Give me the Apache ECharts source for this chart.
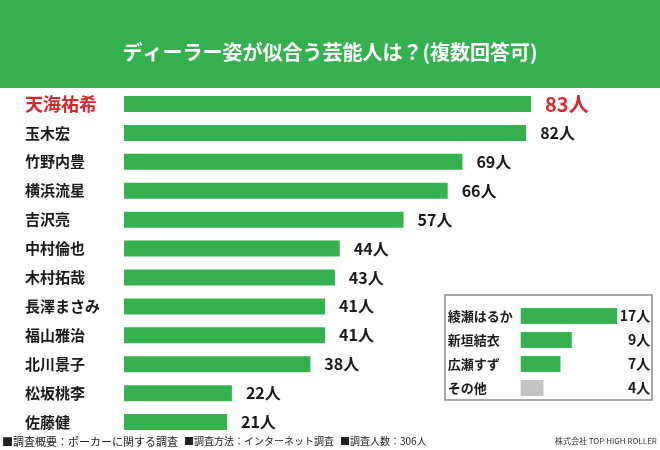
<!DOCTYPE html>
<html>
<head>
<meta charset="utf-8">
<script src="https://cdn.jsdelivr.net/npm/echarts@6/dist/echarts.min.js"></script>
<style>
  html, body { margin: 0; padding: 0; background: #fff; }
  #chart { width: 660px; height: 450px; }
</style>
</head>
<body>
<div id="chart"></div>
<script>
// メインの回答（上位12名）
var names = ['天海祐希', '玉木宏', '竹野内豊', '横浜流星', '吉沢亮', '中村倫也',
  '木村拓哉', '長澤まさみ', '福山雅治', '北川景子', '松坂桃李', '佐藤健'];
var votes = [83, 82, 69, 66, 57, 44, 43, 41, 41, 38, 22, 21];

// 枠内の回答
var otherNames = ['綾瀬はるか', '新垣結衣', '広瀬すず', 'その他'];
var otherVotes = [17, 9, 7, 4];

var titleText = 'ディーラー姿が似合う芸能人は？(複数回答可)';
var notes = ['■調査概要：ポーカーに関する調査', '■調査方法：インターネット調査', '■調査人数：306人'];
var company = '株式会社 TOP HIGH ROLLER';

var GREEN = '#36b14f';
var RED = '#d8282b';
var INK = '#1a1a1a';
var FONT = '"Noto Sans CJK JP", "Noto Sans", sans-serif';

var chart = echarts.init(document.getElementById('chart'));

var mainData = votes.map(function (v, i) {
  if (i === 0) {
    return { value: v, label: { color: RED, fontSize: 20 } };
  }
  return v;
});

var otherData = otherVotes.map(function (v, i) {
  return {
    value: v,
    itemStyle: { color: otherNames[i] === 'その他' ? '#c3c3c3' : GREEN }
  };
});

var option = {
  animation: false,
  textStyle: { fontFamily: FONT },
  title: {
    text: titleText,
    left: 'center',
    top: 37,
    textStyle: { color: '#fff', fontSize: 20, fontWeight: 'bold', fontFamily: FONT }
  },
  graphic: [
    { type: 'rect', z: -10, shape: { x: 0, y: 0, width: 660, height: 88 }, style: { fill: GREEN } },
    { type: 'rect', z: -10, shape: { x: 445, y: 295, width: 207, height: 105 },
      style: { fill: '#fff', stroke: '#8a8a8a', lineWidth: 1.5 } },
    { type: 'text', x: 2, y: 436, style: { text: notes[0], fill: '#222', font: '11px ' + FONT } },
    { type: 'text', x: 184, y: 436, style: { text: notes[1], fill: '#222', font: '10px ' + FONT } },
    { type: 'text', x: 340, y: 436, style: { text: notes[2], fill: '#222', font: '10px ' + FONT } },
    { type: 'text', x: 555, y: 437, style: { text: company, fill: '#333', font: '8px ' + FONT } }
  ],
  grid: [
    { left: 124, top: 89.5, width: 490.4, height: 347 },
    { left: 520.7, top: 304, width: 113.6, height: 96 }
  ],
  xAxis: [
    { gridIndex: 0, type: 'value', min: 0, max: 100, show: false },
    { gridIndex: 1, type: 'value', min: 0, max: 20, show: false }
  ],
  yAxis: [
    {
      gridIndex: 0, type: 'category', data: names, inverse: true,
      axisLine: { show: false }, axisTick: { show: false }, splitLine: { show: false },
      axisLabel: {
        align: 'left', margin: 99,
        formatter: function (v, i) { return i === 0 ? '{hl|' + v + '}' : '{n|' + v + '}'; },
        rich: {
          hl: { color: RED, fontSize: 18, fontWeight: 'bold', fontFamily: FONT },
          n: { color: INK, fontSize: 15, fontWeight: 'bold', fontFamily: FONT }
        }
      }
    },
    {
      gridIndex: 1, type: 'category', data: otherNames, inverse: true,
      axisLine: { show: false }, axisTick: { show: false }, splitLine: { show: false },
      axisLabel: { align: 'left', margin: 73, color: INK, fontSize: 13, fontWeight: 'bold' }
    },
    {
      gridIndex: 1, type: 'category', position: 'right', inverse: true,
      data: otherVotes.map(function (v) { return v + '人'; }),
      axisLine: { show: false }, axisTick: { show: false }, splitLine: { show: false },
      axisLabel: { align: 'right', margin: 16, color: INK, fontSize: 14, fontWeight: 'bold' }
    }
  ],
  series: [
    {
      type: 'bar', xAxisIndex: 0, yAxisIndex: 0, data: mainData,
      barWidth: 16, itemStyle: { color: GREEN },
      label: {
        show: true, position: 'right', distance: 14, formatter: '{c}人',
        color: INK, fontSize: 16, fontWeight: 'bold', fontFamily: FONT
      }
    },
    {
      type: 'bar', xAxisIndex: 1, yAxisIndex: 1, data: otherData,
      barWidth: 16
    }
  ]
};

chart.setOption(option);
</script>
</body>
</html>
